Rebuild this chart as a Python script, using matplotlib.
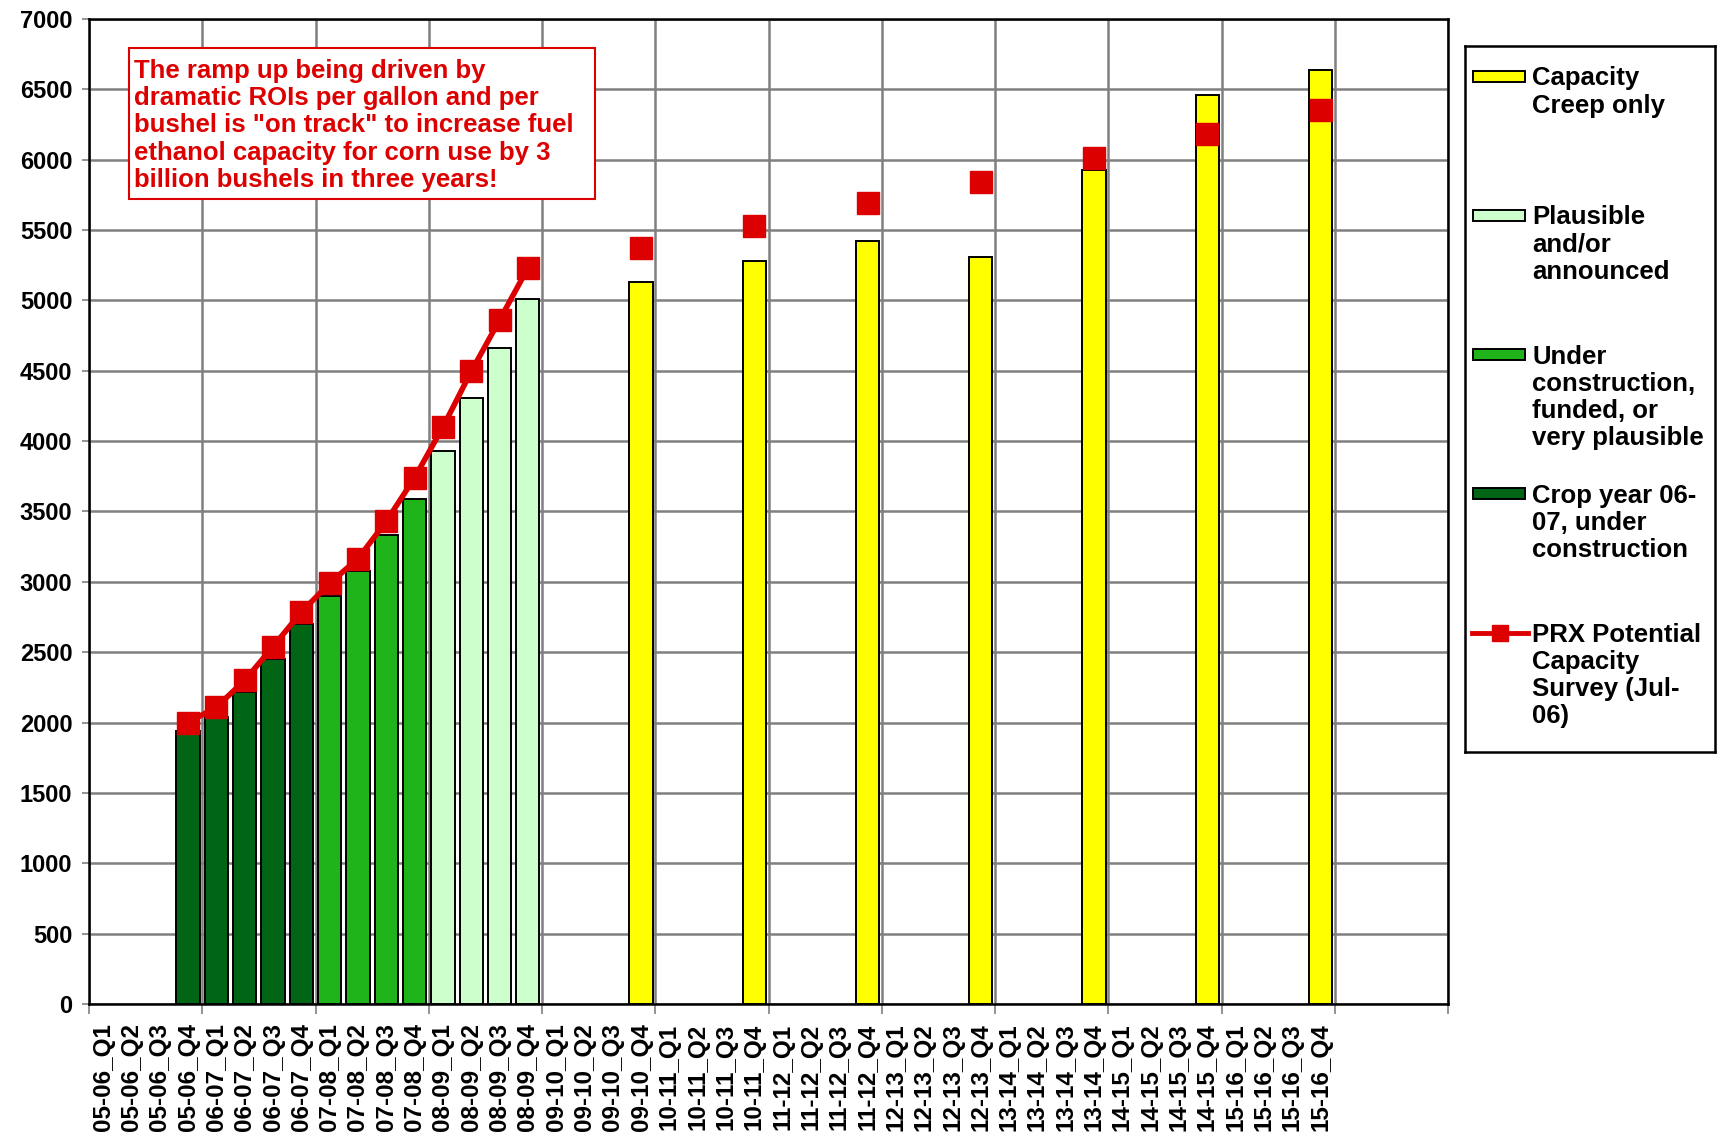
import matplotlib
matplotlib.use('Agg')
import matplotlib.pyplot as plt
from matplotlib.patches import Rectangle
from matplotlib.lines import Line2D
import numpy as np

plt.rcParams['font.family'] = ['Liberation Sans', 'DejaVu Sans']
plt.rcParams['font.weight'] = 'bold'

# categories: crop year + quarter, plus 4 unlabeled slots at the end
seasons = ['05-06', '06-07', '07-08', '08-09', '09-10', '10-11',
           '11-12', '12-13', '13-14', '14-15', '15-16']
quarters = ['Q1', 'Q2', 'Q3', 'Q4']
categories = [f'{s}_{q}' for s in seasons for q in quarters]
n_slots = len(categories) + 4

crop_cats = ['05-06_Q4', '06-07_Q1', '06-07_Q2', '06-07_Q3', '06-07_Q4']
crop_vals = [1940, 2040, 2220, 2450, 2700]

under_cats = ['07-08_Q1', '07-08_Q2', '07-08_Q3', '07-08_Q4']
under_vals = [2900, 3080, 3330, 3590]

plaus_cats = ['08-09_Q1', '08-09_Q2', '08-09_Q3', '08-09_Q4']
plaus_vals = [3930, 4310, 4660, 5010]

creep_cats = ['09-10_Q4', '10-11_Q4', '11-12_Q4', '12-13_Q4',
              '13-14_Q4', '14-15_Q4', '15-16_Q4']
creep_vals = [5130, 5280, 5425, 5310, 5930, 6460, 6640]

prx_cats = crop_cats + under_cats + plaus_cats + creep_cats
prx_vals = [2000, 2110, 2300, 2540, 2785,
            2990, 3165, 3430, 3740,
            4100, 4495, 4860, 5230,
            5375, 5530, 5690, 5845, 6010, 6180, 6355]

RED = '#DD0000'
W, H = 1725, 1148


def fx(px):
    return px / W


def fy(py):
    return 1 - py / H


fig = plt.figure(figsize=(W / 100, H / 100), dpi=100)
ax = fig.add_axes([fx(89), fy(1004), fx(1448) - fx(89), fy(19) - fy(1004)])

series = [
    (creep_cats, creep_vals, '#FFFF00', 'Capacity\nCreep only'),
    (plaus_cats, plaus_vals, '#CCFFCC', 'Plausible\nand/or\nannounced'),
    (under_cats, under_vals, '#1EB41A',
     'Under\nconstruction,\nfunded, or\nvery plausible'),
    (crop_cats, crop_vals, '#006616', 'Crop year 06-\n07, under\nconstruction'),
]
for cats, vals, col, _ in series:
    xs = [categories.index(c) for c in cats]
    ax.bar(xs, vals, width=0.82, color=col, edgecolor='black',
           linewidth=1.4, zorder=3)

prx = np.full(len(categories), np.nan)
for c, v in zip(prx_cats, prx_vals):
    prx[categories.index(c)] = v
ax.plot(range(len(categories)), prx, color=RED, lw=4, marker='s', ms=16.5,
        mec=RED, mfc=RED, zorder=4)

ax.set_xlim(-0.5, n_slots - 0.5)
ax.set_ylim(0, 7000)
ax.set_yticks(range(0, 7001, 500))
ax.tick_params(axis='y', length=5, width=1.2, color='#808080', pad=7,
               labelsize=17)
for lab in ax.get_yticklabels():
    lab.set_fontweight('bold')

ax.set_xticks(np.arange(-0.5, n_slots, 4))
ax.set_xticklabels([])
ax.set_xticks(range(len(categories)), minor=True)
ax.set_xticklabels(categories, minor=True, rotation=90, fontsize=17.5,
                   fontweight='bold')
ax.tick_params(axis='x', which='major', length=7, width=1.2, color='#808080')
ax.tick_params(axis='x', which='minor', length=0, pad=14)

ax.set_axisbelow(True)
ax.grid(True, which='major', color='#808080', lw=1.8)
for sp in ax.spines.values():
    sp.set_color('black')
    sp.set_linewidth(1.8)

# annotation box
fig.add_artist(Rectangle((fx(129), fy(199)), fx(595) - fx(129), fy(48) - fy(199),
                         transform=fig.transFigure, facecolor='white',
                         edgecolor=RED, lw=1.5))
fig.text(fx(134), fy(59),
         'The ramp up being driven by\n'
         'dramatic ROIs per gallon and per\n'
         'bushel is "on track" to increase fuel\n'
         'ethanol capacity for corn use by 3\n'
         'billion bushels in three years!',
         color=RED, fontsize=18.5, fontweight='bold', va='top',
         ha='left', linespacing=1.17, zorder=5)

# legend panel (pixel coordinates inside the box)
lx0, ly0, lx1, ly1 = 1465, 46, 1715, 752
lax = fig.add_axes([fx(lx0), fy(ly1), fx(lx1) - fx(lx0), fy(ly0) - fy(ly1)])
lax.set_xlim(0, lx1 - lx0)
lax.set_ylim(ly1 - ly0, 0)
lax.set_xticks([])
lax.set_yticks([])
for sp in lax.spines.values():
    sp.set_color('black')
    sp.set_linewidth(1.8)

step = 139
for i, (_, _, col, label) in enumerate(series):
    cy = 30.5 + step * i
    lax.add_patch(Rectangle((8, cy - 5.5), 52, 11, facecolor=col,
                            edgecolor='black', lw=1.4))
    lax.text(67, cy - 10, label, fontsize=18.5, fontweight='bold',
             va='top', ha='left', linespacing=1.17)
cy = 30.5 + step * 4
lax.add_line(Line2D([7, 63], [cy, cy], color=RED, lw=3.5))
lax.plot([35], [cy], marker='s', ms=11, color=RED)
lax.text(67, cy - 10, 'PRX Potential\nCapacity\nSurvey (Jul-\n06)',
         fontsize=18.5, fontweight='bold', va='top', ha='left',
         linespacing=1.17)

fig.savefig('out.png', dpi=100)
